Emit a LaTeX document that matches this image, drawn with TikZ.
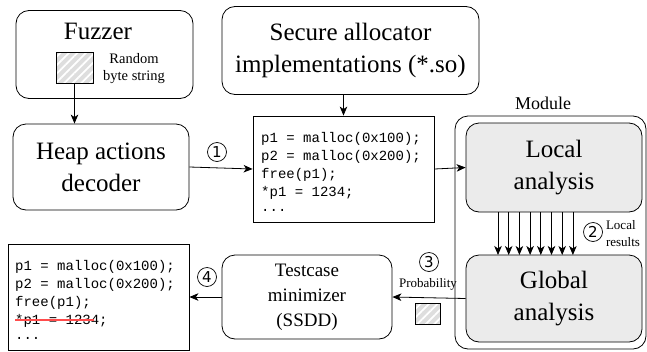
\documentclass[tikz,border=0pt]{standalone}
\usepackage{fontspec}
\setmainfont{Liberation Serif}
\setmonofont{Liberation Mono}
\setsansfont{DejaVu Sans}
\usetikzlibrary{arrows.meta,patterns.meta}
\begin{document}
\begin{tikzpicture}[x=1pt,y=-1pt,
  box/.style={draw,line width=0.8pt,rounded corners=13pt},
  graybox/.style={box,fill=black!8},
  code/.style={draw,line width=0.8pt},
  arr/.style={line width=0.8pt,-{Stealth[length=9pt,width=7.5pt,inset=2.5pt]}},
  big/.style={font=\fontsize{25}{32}\selectfont,align=center},
  mid/.style={font=\fontsize{19}{25}\selectfont,align=center},
  small/.style={font=\fontsize{14.5}{17}\selectfont,align=center},
  tiny/.style={font=\fontsize{13}{17}\selectfont,align=left},
  codetxt/.style={font=\fontsize{14}{18}\ttfamily\selectfont,align=left,anchor=west,inner sep=0pt},
  num/.style={draw,circle,line width=0.7pt,minimum size=19pt,inner sep=0pt,font=\fontsize{15}{15}\sffamily\selectfont},
  hatch/.style={preaction={fill=black!13},preaction={pattern={Lines[angle=45,distance=6pt,line width=1.8pt]},pattern color=white},draw,line width=0.6pt}
]
\useasboundingbox (0,0) rectangle (647,351);

% Fuzzer
\node[box,minimum width=177pt,minimum height=88pt] (fuzz) at (104.5,54.5) {};
\node[big] (fuzzt) at (98,31) {Fuzzer};
\node[hatch,minimum width=37pt,minimum height=31pt,inner sep=0pt] (rbs) at (74.5,67.5) {};
\node[small] (rbst) at (134,68.5) {Random\\byte string};

% Heap decoder
\node[box,minimum width=176pt,minimum height=86pt,big] (dec) at (101,167) {Heap actions\\decoder};

% Secure allocator
\node[box,minimum width=257pt,minimum height=88pt,big] (sec) at (350.5,50.5) {Secure allocator\\implementations (*.so)};

% Code box
\node[code,minimum width=181pt,minimum height=106pt] (codebox) at (343.5,169) {};
\node[codetxt] (c1) at (261,139) {p1 = malloc(0x100);};
\node[codetxt] (c2) at (261,157) {p2 = malloc(0x200);};
\node[codetxt] (c3) at (261,175) {free(p1);};
\node[codetxt] (c4) at (261,193) {*p1 = 1234;};
\node[codetxt] (c5) at (261,210) {...};

% Module
\node[box,minimum width=191pt,minimum height=233pt] (mod) at (550.5,232.5) {};
\node[font=\fontsize{18}{20}\selectfont] (modt) at (543,103) {Module};
\node[graybox,minimum width=176pt,minimum height=89pt,big] (loc) at (554,167.5) {Local\\analysis};
\node[graybox,minimum width=176pt,minimum height=87pt,big] (glob) at (554,298.5) {Global\\analysis};

% Testcase minimizer
\node[box,minimum width=170pt,minimum height=84pt,mid] (min) at (307,297) {Testcase\\minimizer\\(SSDD)};

% Output code box
\node[code,minimum width=181pt,minimum height=106pt] (outbox) at (98.5,297) {};
\node[codetxt] (o1) at (15,267) {p1 = malloc(0x100);};
\node[codetxt] (o2) at (15,285) {p2 = malloc(0x200);};
\node[codetxt] (o3) at (15,303) {free(p1);};
\node[codetxt] (o4) at (15,321) {*p1 = 1234;};
\node[codetxt] (o5) at (15,338) {...};
\draw[red!70,line width=1.3pt] (o4.west) ++(0,-1) coordinate (s1) -- ++(79,0) coordinate (s2);

% Connectors
\draw[arr] (rbs.south) -- (rbs.south |- dec.north);
\draw[arr] (sec.south -| codebox.north) -- (codebox.north);
\draw[arr] (dec.east) -- (codebox.west);
\draw[arr] (codebox.east) -- (loc.west);
\foreach \i in {0,...,7} {
  \coordinate (t\i) at (498+10.7*\i,212);
  \coordinate (b\i) at (498+10.7*\i,255);
  \draw[arr] (t\i) -- (b\i);
}
\draw[arr] (glob.west) -- (min.east);
\draw[arr] (min.west) -- (outbox.east);

% Labels
\node[num] (n1) at (217,152) {1};
\node[num] (n2) at (593,232) {2};
\node[tiny] (lr) at (623,234) {Local\\results};
\node[num] (n3) at (429,262) {3};
\node[font=\fontsize{13}{15}\selectfont] (prob) at (428,284) {Probability};
\node[hatch,minimum width=25pt,minimum height=21pt,inner sep=0pt] (ph) at (427.5,313.5) {};
\node[num] (n4) at (207,277) {4};
\end{tikzpicture}
\end{document}
